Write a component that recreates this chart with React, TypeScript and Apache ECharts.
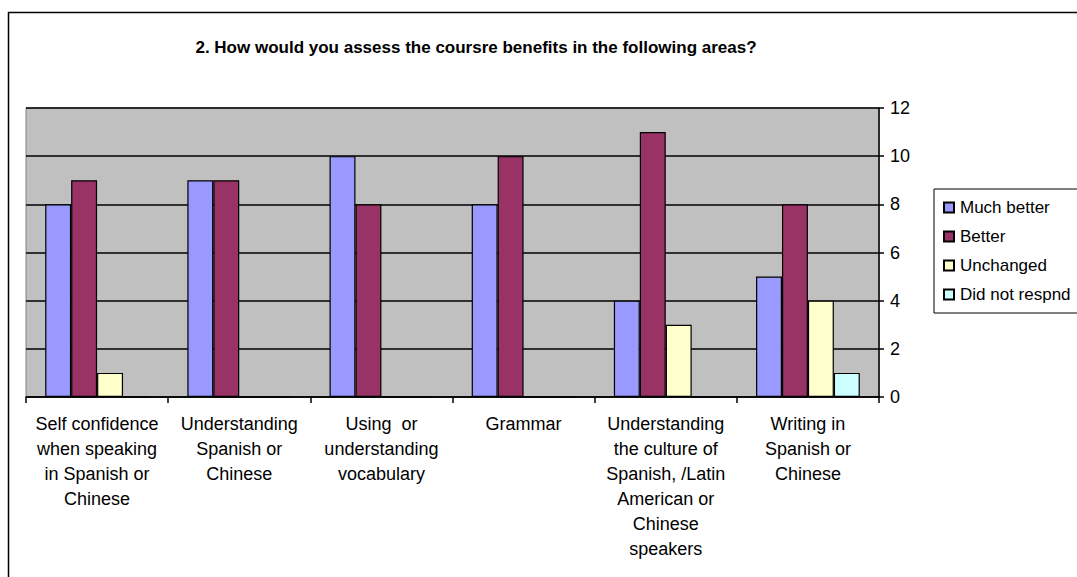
import React, { useEffect, useRef } from "react";
import * as echarts from "echarts";

const categories = [
  "Self confidence\nwhen speaking\nin Spanish or\nChinese",
  "Understanding\nSpanish or\nChinese",
  "Using  or\nunderstanding\nvocabulary",
  "Grammar",
  "Understanding\nthe culture of\nSpanish, /Latin\nAmerican or\nChinese\nspeakers",
  "Writing in\nSpanish or\nChinese",
];
const seriesNames = ["Much better", "Better", "Unchanged", "Did not respnd"];
const muchBetter = [8, 9, 10, 8, 4, 5];
const better = [9, 9, 8, 10, 11, 8];
const unchanged = [1, 0, 0, 0, 3, 4];
const didNotRespond = [0, 0, 0, 0, 0, 1];
const colors = ["#9999FF", "#993366", "#FFFFCC", "#CCFFFF"];
const title = "2. How would you assess the coursre benefits in the following areas?";

const FONT = "Arial, 'Liberation Sans', sans-serif";

export default function App() {
  const ref = useRef<HTMLDivElement>(null);
  useEffect(() => {
    if (!ref.current) return;
    const chart = echarts.init(ref.current, undefined, { renderer: "svg" });
    const data = [muchBetter, better, unchanged, didNotRespond];
    chart.setOption({
      animation: false,
      backgroundColor: "#ffffff",
      textStyle: { fontFamily: FONT, color: "#000" },
      title: {
        text: title,
        left: 476,
        textAlign: "center",
        top: 39,
        padding: 0,
        textStyle: { fontFamily: FONT, fontSize: 17, fontWeight: "bold", color: "#000" },
      },
      legend: {
        orient: "vertical",
        left: 934,
        top: 189,
        padding: [10, 60, 10, 9],
        itemGap: 12,
        itemWidth: 10,
        itemHeight: 10,
        borderColor: "#000",
        borderWidth: 1,
        icon: "rect",
        textStyle: { fontFamily: FONT, fontSize: 17, color: "#000", padding: [0, 0, 0, 1] },
        data: seriesNames,
      },
      graphic: [
        {
          type: "rect",
          shape: { x: 8.5, y: 12.5, width: 1200, height: 700 },
          style: { fill: "none", stroke: "#000", lineWidth: 1.5 },
          z: 100,
          silent: true,
        },
      ],
      grid: {
        left: 26,
        right: 198,
        top: 108,
        bottom: 180,
        show: true,
        backgroundColor: "#C0C0C0",
        borderColor: "#808080",
        borderWidth: 1,
      },
      xAxis: {
        type: "category",
        data: categories,
        axisLine: { show: true, lineStyle: { color: "#000", width: 1.5 } },
        axisTick: { show: true, alignWithLabel: false, length: 6, lineStyle: { color: "#000", width: 1.5 } },
        axisLabel: {
          interval: 0,
          margin: 14,
          fontFamily: FONT,
          fontSize: 18,
          lineHeight: 25,
          color: "#000",
          align: "center",
          verticalAlign: "top",
        },
        splitLine: { show: false },
      },
      yAxis: {
        type: "value",
        position: "right",
        min: 0,
        max: 12,
        interval: 2,
        axisLine: { show: true, lineStyle: { color: "#000", width: 1.5 } },
        axisTick: { show: true, length: 5, lineStyle: { color: "#000", width: 1.5 } },
        axisLabel: { margin: 11, fontFamily: FONT, fontSize: 18, color: "#000" },
        splitLine: { show: true, lineStyle: { color: "#000", width: 1.5 } },
      },
      series: seriesNames.map((name, i) => ({
        name,
        type: "bar",
        data: data[i],
        barGap: "0%",
        barCategoryGap: "27%",
        itemStyle: { color: colors[i], borderColor: "#000", borderWidth: 1.2 },
      })),
    });
    return () => chart.dispose();
  }, []);
  return (
    <div
      ref={ref}
      style={{ position: "fixed", left: 0, top: 0, width: 1077, height: 577 }}
    />
  );
}
